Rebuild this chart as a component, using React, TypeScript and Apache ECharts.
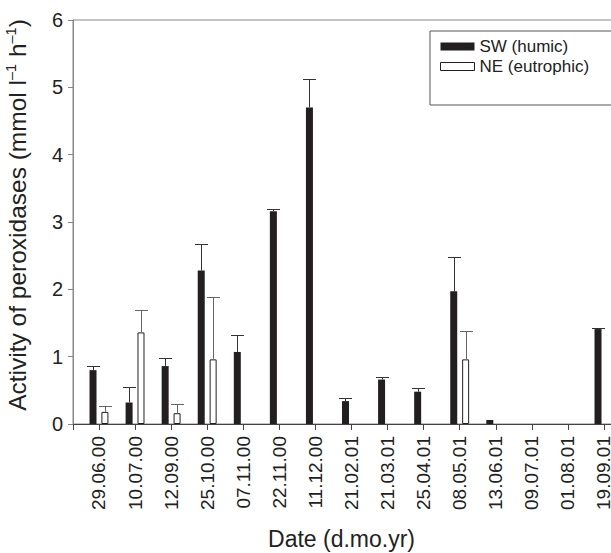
import React, { useEffect, useRef } from "react";
import * as echarts from "echarts";

const dates = ["29.06.00", "10.07.00", "12.09.00", "25.10.00", "07.11.00", "22.11.00", "11.12.00", "21.02.01", "21.03.01", "25.04.01", "08.05.01", "13.06.01", "09.07.01", "01.08.01", "19.09.01"];
const swMean = [0.80, 0.32, 0.86, 2.28, 1.07, 3.16, 4.70, 0.34, 0.66, 0.48, 1.97, 0.06, null, null, 1.41];
const swSd = [0.06, 0.23, 0.12, 0.40, 0.25, 0.04, 0.42, 0.05, 0.04, 0.05, 0.51, null, null, null, 0.01];
const neMean = [0.18, 1.36, 0.16, 0.96, null, null, null, null, null, null, 0.96, null, null, null, null];
const neSd = [0.08, 0.34, 0.14, 0.93, null, null, null, null, null, null, 0.42, null, null, null, null];
const yTicks = [0, 1, 2, 3, 4, 5, 6];

const FONT = "Liberation Sans, Arial, Helvetica, sans-serif";

function pairs(vals: (number | null)[]) {
  const out: any[] = [];
  vals.forEach((v, i) => {
    if (v !== null) out.push([i + 1, v]);
  });
  return out;
}
function triples(vals: (number | null)[], sd: (number | null)[]) {
  const out: any[] = [];
  vals.forEach((v, i) => {
    if (v !== null && sd[i] !== null) out.push([i + 1, v, sd[i]]);
  });
  return out;
}

function errRender(offset: number, color: string) {
  return (params: any, api: any) => {
    const x = api.value(0);
    const m = api.value(1);
    const sd = api.value(2);
    const p0 = api.coord([x, m]);
    const p1 = api.coord([x, m + sd]);
    const cx = Math.round(p0[0] + offset) + 0.5;
    const y1 = Math.round(p1[1]) + 0.5;
    const style = { stroke: color, lineWidth: 1, fill: "none" };
    return {
      type: "group",
      children: [
        { type: "line", shape: { x1: cx, y1: p0[1], x2: cx, y2: y1 }, style },
        { type: "line", shape: { x1: cx - 6.5, y1: y1, x2: cx + 6.5, y2: y1 }, style },
      ],
    };
  };
}

export default function App() {
  const ref = useRef<HTMLDivElement>(null);
  useEffect(() => {
    if (!ref.current) return;
    const chart = echarts.init(ref.current, null, { renderer: "svg" });
    const option: any = {
      animation: false,
      backgroundColor: "#fff",
      textStyle: { fontFamily: FONT },
      grid: {
        left: 73,
        top: 20,
        width: 549,
        height: 404,
        show: true,
        borderColor: "#888",
        borderWidth: 1,
        containLabel: false,
        outerBoundsMode: "none",
      },
      legend: {
        orient: "vertical",
        left: 430,
        top: 31,
        padding: [7, 90, 30, 10],
        itemGap: 3,
        itemWidth: 34,
        itemHeight: 8,
        borderColor: "#555",
        borderWidth: 1,
        borderRadius: 0,
        textStyle: { fontFamily: FONT, fontSize: 17, color: "#222" },
        data: [
          { name: "SW (humic)", icon: "rect", itemStyle: { color: "#231f20", borderWidth: 0 } },
          { name: "NE (eutrophic)", icon: "rect", itemStyle: { color: "#fff", borderColor: "#231f20", borderWidth: 1 } },
        ],
      },
      xAxis: {
        type: "value",
        min: 0.28,
        max: 15.5,
        splitNumber: 15,
        minInterval: 1,
        maxInterval: 1,
        splitLine: { show: false },
        axisLine: { show: true, lineStyle: { color: "#444", width: 1 } },
        axisTick: { show: true, length: 6, lineStyle: { color: "#444" } },
        axisLabel: {
          rotate: 90,
          margin: 12,
          fontFamily: FONT,
          fontSize: 19,
          color: "#222",
          formatter: (v: number) => {
            const r = Math.round(v);
            return Math.abs(v - r) < 1e-6 && r >= 1 && r <= dates.length ? dates[r - 1] : "";
          },
        },
        name: "Date (d.mo.yr)",
        nameLocation: "middle",
        nameGap: 103,
        nameTextStyle: { fontFamily: FONT, fontSize: 23, color: "#222", padding: [0, 12, 0, 0] },
      },
      yAxis: {
        type: "value",
        min: yTicks[0],
        max: yTicks[yTicks.length - 1],
        interval: 1,
        splitLine: { show: false },
        axisLine: { show: true, lineStyle: { color: "#888", width: 1 } },
        axisTick: { show: true, length: 5, lineStyle: { color: "#888" } },
        axisLabel: { fontFamily: FONT, fontSize: 20, color: "#222", margin: 10 },
        name: "Activity of peroxidases (mmol l{sup|–1} h{sup|–1})",
        nameLocation: "middle",
        nameRotate: 90,
        nameGap: 42,
        nameTextStyle: {
          fontFamily: FONT,
          fontSize: 24.5,
          color: "#222",
          lineHeight: 28,
          padding: [0, 0, 0, 14],
          rich: {
            sup: { fontFamily: FONT, fontSize: 14.5, color: "#222", verticalAlign: "top", lineHeight: 28 },
          },
        },
      },
      series: [
        {
          name: "SW (humic)",
          type: "bar",
          barWidth: 7,
          barGap: "70%",
          itemStyle: { color: "#231f20" },
          data: pairs(swMean),
          z: 2,
        },
        {
          name: "NE (eutrophic)",
          type: "bar",
          barWidth: 7,
          barGap: "70%",
          itemStyle: { color: "#fff", borderColor: "#231f20", borderWidth: 1 },
          data: pairs(neMean),
          z: 2,
        },
        {
          name: "SW err",
          type: "custom",
          renderItem: errRender(-6, "#333"),
          data: triples(swMean, swSd),
          z: 3,
          silent: true,
        },
        {
          name: "NE err",
          type: "custom",
          renderItem: errRender(6, "#666"),
          data: triples(neMean, neSd),
          z: 3,
          silent: true,
        },
      ],
    };
    chart.setOption(option);
    return () => chart.dispose();
  }, []);
  return (
    <div
      ref={ref}
      style={{ position: "fixed", left: 0, top: 0, width: 611, height: 553, background: "#fff" }}
    />
  );
}
